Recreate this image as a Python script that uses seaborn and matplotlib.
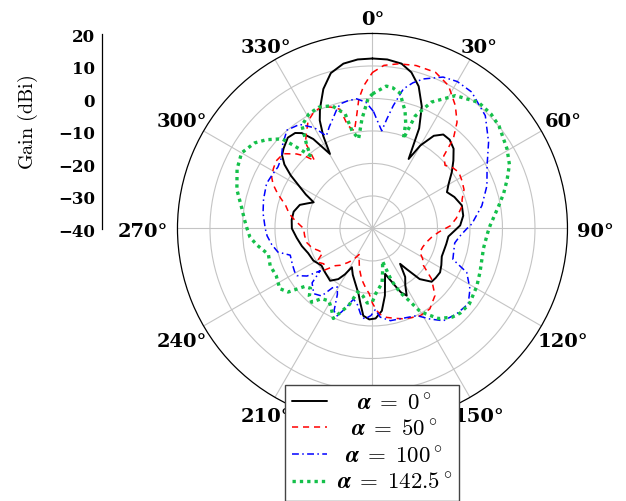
import numpy as np
import pandas as pd
import matplotlib
matplotlib.use("Agg")
import matplotlib.pyplot as plt
import seaborn as sns
from matplotlib.lines import Line2D
from matplotlib.font_manager import FontProperties

# ---------------- data (angle in degrees, gain in dBi) ----------------
BLK_ANG = [0, 5, 10, 14, 18, 22, 25, 27.5, 30, 33.5,
           37, 41, 45.5, 50, 54.5, 60, 64, 69, 75.5, 82,
           88, 90, 96, 102, 108, 112, 118, 123, 128, 132,
           137, 140, 142, 146, 150, 153, 156, 158.5, 164.5, 169.5,
           173.5, 178, 182, 186, 189.5, 192, 198, 203, 208, 211,
           214, 219, 227, 234, 241.5, 249, 256, 263, 270, 276,
           282, 288, 291, 294, 297, 300, 303, 306, 309, 312,
           317, 321, 323.5, 326.5, 330.3, 332, 334, 336.3, 340.6, 345,
           350, 355]
BLK_GAIN = [12.3, 12.2, 11.5, 9.5, 6, 0.5, -6, -15.9, -10.5, -5.8,
            -3.8, -3.8, -5, -7.5, -10, -13, -14.5, -13, -11.6, -11.8,
            -13, -14, -16.5, -16.8, -17, -17, -16, -15.2, -15.3, -15.5,
            -18.7, -23.7, -26.2, -22, -19.8, -16.8, -18.5, -21.1, -25.5, -19,
            -14.5, -12.3, -12, -13, -17, -19.4, -22.6, -24.5, -26.5, -23.5,
            -21.2, -19.3, -20.1, -20.6, -19.3, -18.8, -17.6, -16.5, -15.2, -15,
            -15.2, -16.5, -18.5, -20.2, -17, -14, -10, -6.5, -4.2, -3.2,
            -1.8, -2.2, -3.5, -7, -13.6, -7.7, -3, 0.2, 5.5, 9.5,
            11.5, 12.2]

RED_ANG = [0, 4, 9, 15, 22, 28, 34, 38.5, 42, 44.5,
           49, 53, 57, 62, 67, 72, 76, 83, 88, 93,
           98, 104, 110, 116.6, 121, 126, 130.5, 137, 144.5, 151.4,
           156, 161, 166, 171, 175, 177, 180, 183, 186, 192,
           198, 203, 207, 212, 216, 221, 225, 229, 234, 239,
           244, 248, 252, 258, 264, 270, 276, 280, 285, 290,
           294, 297, 301, 305, 310, 314.5, 317, 319.5, 322, 325,
           329, 333, 337, 341, 344.8, 346.5, 349.5, 352, 354, 356.5]
RED_GAIN = [8, 10.3, 11.3, 11.9, 11.8, 9.8, 5.6, 1.8, -2.8, -8.7,
            -10.4, -9, -8.3, -8.8, -9.4, -11, -11.6, -14, -16, -19.5,
            -21.5, -22.8, -23.5, -23.7, -22, -20.6, -16.1, -11.8, -9.6, -9.4,
            -10, -10.6, -11.5, -12.3, -13.5, -14.7, -17, -20, -21.3, -24,
            -27, -29.5, -31, -28.5, -27, -25, -23.8, -20.5, -21.5, -20,
            -23, -22, -20.5, -19.3, -19, -18.8, -16, -14, -12.3, -9,
            -6.5, -5.2, -4.4, -3.8, -4.2, -7.3, -9.5, -12.6, -6.5, -4.5,
            -1.5, 0, 0.6, -0.5, -2, -7.4, -9.5, -5, 0.1, 4]

BLU_ANG = [0.5, 3, 5.4, 7.5, 9.6, 12.5, 15.5, 18.8, 25, 30,
           36, 45, 53.4, 61.3, 69.5, 78.2, 87.4, 90, 95, 100,
           106, 111, 115, 121.8, 128.2, 135.4, 142.5, 147.6, 153, 161,
           169, 175, 178, 181, 185, 188, 191, 195, 199, 202,
           205, 208, 211, 214, 217, 222, 228, 231, 234, 238,
           241, 246, 252, 256, 261, 266, 270, 278, 285, 293,
           298, 303, 308, 313, 319, 325, 330, 333.5, 337, 340,
           343, 345.5, 349, 353, 357]
BLU_GAIN = [-4, -7.3, -9.8, -6, -1.7, 4, 6.5, 8.6, 11.4, 12.2,
            11.9, 9.1, 4.5, 0.2, -2.4, -5.6, -9.4, -10.9, -13, -14.3,
            -14, -13.5, -8, -4.7, -2.5, -3.1, -4.2, -7, -9.9, -10.8,
            -11.1, -12.6, -15, -13.2, -12, -13.5, -16, -17.5, -13.8, -11,
            -12, -17, -19, -18, -14, -13, -15, -19.3, -15.1, -12.6,
            -12.6, -13, -13.4, -10, -8.6, -7.5, -7, -6, -5.3, -4.6,
            -5, -5.3, -4.5, -2.2, 0.1, -0.9, -4.2, -8.2, -6, -4.2,
            -2, -0.4, 0, 0.2, -1.1]

GRN_ANG = [0, 5.5, 8, 11.5, 15.5, 17.5, 19, 20.8, 25, 32,
           40, 46, 51, 59.4, 65, 70, 75, 80, 88.6, 92,
           100, 106, 112, 119, 128, 134, 138, 143.7, 148, 150.4,
           153, 156.7, 160, 163, 166, 170, 174, 177, 180, 184,
           188, 193, 197, 201, 203.5, 207, 211, 216, 219.5, 223,
           226, 229.5, 233, 237, 243.8, 250, 256, 262, 266, 270,
           274, 278.5, 286, 293.7, 300, 306, 310, 314.7, 316.5, 319.5,
           322, 325.6, 331, 336, 341.7, 346.6, 348.2, 351.2, 354.5, 358]
GRN_GAIN = [1.4, 4, 3.8, 2.5, -2.5, -6, -10.8, -3, 2.9, 8.2,
            10.7, 10.7, 10.1, 8.1, 6.5, 4.1, 1.8, -0.6, -3.8, -4.5,
            -5.3, -5, -4.3, -3.3, -2.2, -2.5, -3.3, -5.6, -9, -11,
            -15, -18.6, -23, -29.5, -27, -23, -21.4, -20, -17.5, -17,
            -19, -20, -15.4, -12.3, -9.8, -12.2, -14, -13.3, -10.6, -11.5,
            -13.5, -12.5, -7.5, -6, -7, -6.5, -7, -4, -2.2, -1.4,
            -0.5, 0.6, 3.4, 5.5, 6.5, 4.8, 2.5, -0.8, -4.8, -10.5,
            -7, -1.6, 0.3, 0.8, -0.2, -3.8, -9.3, -12.1, -6.2, -0.1]

SERIES = ["0", "50", "100", "142.5"]
R_TICKS = [20, 10, 0, -10, -20, -30, -40]
THETA_TICKS = list(range(0, 360, 30))

# ---------------- styling ----------------
sns.set_style("white")
plt.rcParams["mathtext.fontset"] = "cm"
plt.rcParams["font.family"] = ["DejaVu Serif"]
for k in ["text.color", "axes.labelcolor", "xtick.color", "ytick.color"]:
    plt.rcParams[k] = "black"

bold_big = FontProperties(family="DejaVu Serif", weight="bold", size=14)
bold_small = FontProperties(family="DejaVu Serif", weight="bold", size=12)

fig = plt.figure(figsize=(6.26, 5.02), dpi=100)
ax = fig.add_axes([0.2835, 0.1544, 0.623, 0.777], projection="polar")
ax.set_theta_zero_location("N")
ax.set_theta_direction(-1)

styles = [
    dict(color="black", lw=1.4, ls="-"),
    dict(color="#ff0000", lw=1.1, ls=(0, (4.0, 3.2))),
    dict(color="#0000ff", lw=1.1, ls=(0, (4.5, 2.2, 1.0, 2.2))),
    dict(color="#14c04a", lw=2.4, ls=(0, (1.0, 1.2))),
]
datasets = [(BLK_ANG, BLK_GAIN), (RED_ANG, RED_GAIN),
            (BLU_ANG, BLU_GAIN), (GRN_ANG, GRN_GAIN)]

for (angs, gains), st, name in zip(datasets, styles, SERIES):
    a = list(angs) + [angs[0] + 360]
    g = list(gains) + [gains[0]]
    df = pd.DataFrame({"theta": np.deg2rad(a), "gain": g})
    sns.lineplot(data=df, x="theta", y="gain", ax=ax, sort=False,
                 estimator=None, color=st["color"], linewidth=st["lw"],
                 linestyle=st["ls"], legend=False, zorder=3)
for l in ax.lines:
    l.set_dash_capstyle("butt")

ax.set_ylim(-40, 20)
ax.set_yticks([-30, -20, -10, 0, 10])
ax.set_yticklabels([])
ax.set_xticks(np.deg2rad(THETA_TICKS))
ax.set_xticklabels([])
ax.tick_params(axis="x", direction="out", length=5, width=0.9, color="black")
ax.grid(True, color="#c4c4c4", lw=0.8)
ax.spines["polar"].set_color("black")
ax.spines["polar"].set_linewidth(0.9)
ax.set_xlabel("")
ax.set_ylabel("")

# angle labels anchored just outside the outer circle (pgfplots style)
base_px = 9
for t in THETA_TICKS:
    lab = "%d\u00b0" % t
    w = 13.5 * len(str(t)) + 10
    h = 16
    phi = np.deg2rad(90 - t)
    ux, uy = np.cos(phi), np.sin(phi)
    dx_ = (w / 2) / abs(ux) if abs(ux) > 1e-6 else 1e9
    dy_ = (h / 2) / abs(uy) if abs(uy) > 1e-6 else 1e9
    d = base_px + min(dx_, dy_)
    ox, oy = ux * d, uy * d - 3
    ax.annotate(lab, xy=(np.deg2rad(t), 20), xycoords="data",
                xytext=(ox * 0.72, oy * 0.72), textcoords="offset points",
                ha="center", va="center", fontproperties=bold_big,
                annotation_clip=False, zorder=1)

# ---------------- left radial scale ----------------
lax = fig.add_axes([0.1625, 0.5418, 0.05, 0.3884])
lax.set_ylim(-40, 20)
lax.set_yticks(R_TICKS)
lax.set_yticklabels([("%d" % v).replace("-", "\u2212") for v in R_TICKS],
                    fontproperties=bold_small)
lax.set_xticks([])
for s in ["top", "right", "bottom"]:
    lax.spines[s].set_visible(False)
lax.spines["left"].set_color("black")
lax.spines["left"].set_linewidth(0.9)
lax.patch.set_visible(False)
lax.tick_params(axis="y", direction="in", length=6, width=0.9, color="black", pad=5)
lax.set_ylabel(r"$\mathrm{Gain\ (dBi)}$", fontsize=14.5)
lax.yaxis.set_label_coords(-1.97, 0.55)

# ---------------- legend ----------------
pads = [1.0, 0.7, 0.4, 0.0]
handles = [Line2D([], [], color=st["color"], lw=st["lw"], ls=st["ls"],
                  dash_capstyle="butt") for st in styles]
labels = [r"$\hspace{%.2f}\boldsymbol{\alpha}\;=\;%s^\circ$" % (p, s)
          for p, s in zip(pads, SERIES)]
leg = fig.legend(handles, labels, loc="upper center",
                 bbox_to_anchor=(0.5946, 0.231), fontsize=16.5,
                 frameon=True, fancybox=False, framealpha=1,
                 edgecolor="#444444", handlelength=1.5, handletextpad=0.45,
                 labelspacing=0.2, borderpad=0.3, borderaxespad=0)
leg.get_frame().set_linewidth(1.0)

fig.savefig("out.png", dpi=100)
